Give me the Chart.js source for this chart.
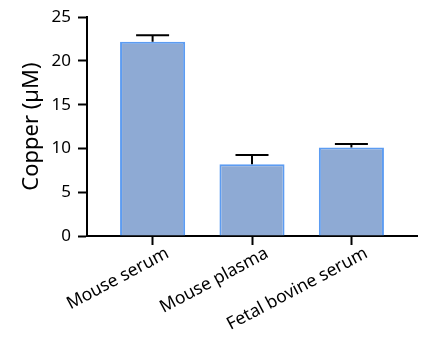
<!DOCTYPE html>
<html>
<head>
<meta charset="utf-8">
<script src="https://cdn.jsdelivr.net/npm/chart.js@4/dist/chart.umd.min.js"></script>
<style>
  html, body { margin: 0; padding: 0; background: #fff; }
  #wrap { width: 434px; height: 347px; }
</style>
</head>
<body>
<div id="wrap"><canvas id="c" width="434" height="347"></canvas></div>
<script>
const categories = ['Mouse serum', 'Mouse plasma', 'Fetal bovine serum'];
const copperMean = [22.2, 8.2, 10.1];
const copperErr = [0.75, 1.05, 0.4];
const yTicks = [0, 5, 10, 15, 20, 25];

const FONT = '"Noto Sans", "Open Sans", sans-serif';

// upper whisker only, like the original figure
const errorBars = {
    id: 'errorBars',
    afterDatasetsDraw(chart) {
        const ctx = chart.ctx;
        const xs = chart.scales.x, ys = chart.scales.y;
        ctx.save();
        ctx.strokeStyle = '#000';
        ctx.lineWidth = 2;
        copperMean.forEach((m, i) => {
            const x = xs.getPixelForValue(i);
            const yb = ys.getPixelForValue(m);
            const yt = ys.getPixelForValue(m + copperErr[i]);
            ctx.beginPath();
            ctx.moveTo(x, yb);
            ctx.lineTo(x, yt);
            ctx.moveTo(x - 16.5, yt);
            ctx.lineTo(x + 16.5, yt);
            ctx.stroke();
        });
        ctx.restore();
    }
};

const axisGrid = {
    display: true,
    offset: false,
    drawOnChartArea: false,
    drawTicks: true,
    tickLength: 9,
    tickWidth: 2,
    tickColor: '#000'
};

new Chart(document.getElementById('c').getContext('2d'), {
    type: 'bar',
    data: {
        datasets: [{
            data: copperMean.map((v, i) => ({ x: i, y: v })),
            backgroundColor: '#8eaad4',
            borderColor: '#5c9cf2',
            borderWidth: 2,
            barPercentage: 0.655,
            categoryPercentage: 1
        }]
    },
    options: {
        responsive: false,
        animation: false,
        layout: { padding: { top: 16, right: 17, left: 0, bottom: 0 } },
        plugins: { legend: { display: false }, tooltip: { enabled: false } },
        scales: {
            x: {
                type: 'linear',
                min: -0.66,
                max: 2.66,
                offset: false,
                afterBuildTicks: (axis) => { axis.ticks = categories.map((c, i) => ({ value: i })); },
                afterFit: (axis) => { axis.height = 111; },
                ticks: {
                    callback: (v) => categories[v],
                    minRotation: 28,
                    maxRotation: 28,
                    labelOffset: 15,
                    color: '#000',
                    font: { family: FONT, size: 17.5 },
                    padding: -2
                },
                grid: axisGrid,
                border: { display: true, color: '#000', width: 2 }
            },
            y: {
                min: 0,
                max: 25,
                afterBuildTicks: (axis) => { axis.ticks = yTicks.map(v => ({ value: v })); },
                afterFit: (axis) => { axis.width = 87; },
                ticks: {
                    color: '#000',
                    font: { family: FONT, size: 17 },
                    padding: 7
                },
                title: {
                    display: true,
                    text: 'Copper (µM)',
                    color: '#000',
                    font: { family: FONT, size: 22 },
                    padding: { top: 19, bottom: 0 }
                },
                grid: axisGrid,
                border: { display: true, color: '#000', width: 2 }
            }
        }
    },
    plugins: [errorBars]
});
</script>
</body>
</html>
